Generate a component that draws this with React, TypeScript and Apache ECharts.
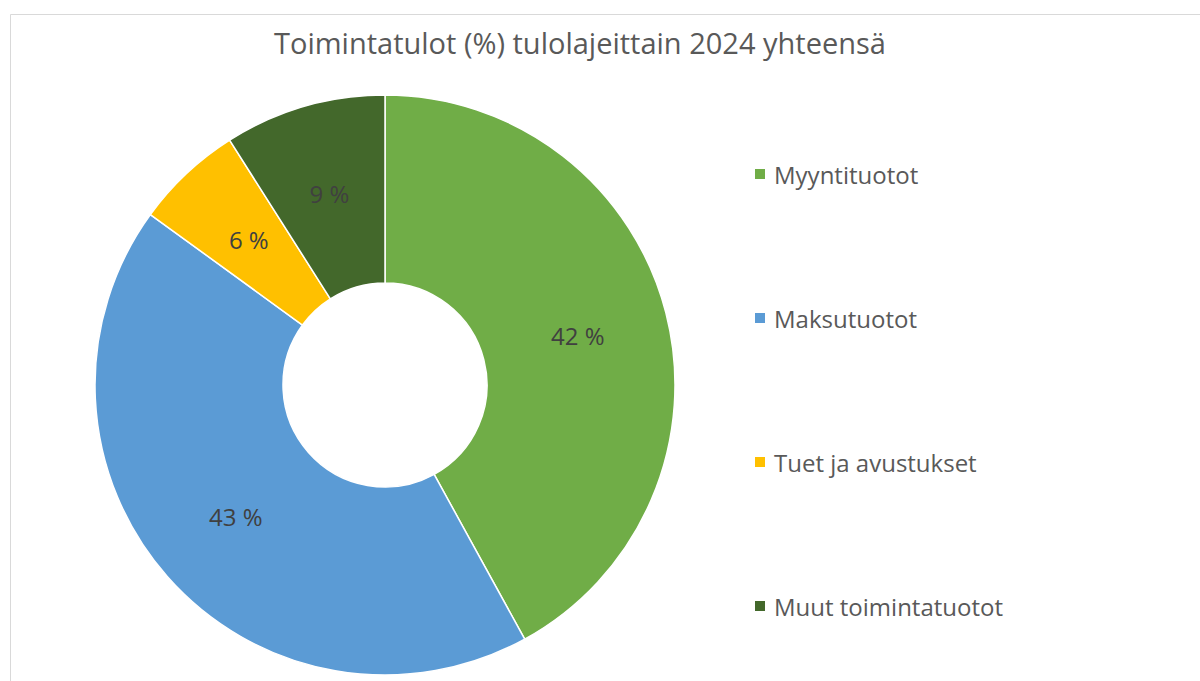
import React, { useEffect, useRef } from "react";
import * as echarts from "echarts";

const categories = ["Myyntituotot", "Maksutuotot", "Tuet ja avustukset", "Muut toimintatuotot"];
const values = [42, 43, 6, 9];
const colors = ["#70AD47", "#5B9BD5", "#FFC000", "#43682B"];
const titleText = "Toimintatulot (%) tulolajeittain 2024 yhteensä";

export default function App() {
  const ref = useRef<HTMLDivElement>(null);
  useEffect(() => {
    if (!ref.current) return;
    const chart = echarts.init(ref.current, null, { renderer: "svg" });
    const font = "Open Sans";
    chart.setOption({
      animation: false,
      backgroundColor: "#ffffff",
      title: {
        text: titleText,
        left: 580,
        textAlign: "center",
        top: 28,
        padding: 0,
        textStyle: { fontFamily: font, fontSize: 29, fontWeight: "normal", color: "#595959" },
      },
      graphic: [
        {
          type: "rect",
          shape: { x: 10.5, y: 14.5, width: 1300, height: 800 },
          style: { fill: "none", stroke: "#d9d9d9", lineWidth: 1 },
          silent: true,
        },
      ],
      legend: {
        orient: "vertical",
        left: 753,
        top: 162,
        padding: 0,
        itemWidth: 12,
        itemHeight: 12,
        itemGap: 120,
        icon: "rect",
        textStyle: { fontFamily: font, fontSize: 24, lineHeight: 24, color: "#595959", padding: [0, 0, 0, 3] },
        data: categories,
      },
      series: [
        {
          type: "pie",
          center: [385, 385],
          radius: [102, 290],
          startAngle: 90,
          clockwise: true,
          avoidLabelOverlap: false,
          itemStyle: { borderColor: "#ffffff", borderWidth: 1.5 },
          label: {
            show: true,
            position: "inside",
            formatter: (p: any) => Math.round(p.percent) + " %",
            fontFamily: font,
            fontSize: 24,
            color: "#404040",
          },
          labelLine: { show: false },
          emphasis: { disabled: true },
          data: categories.map((c, i) => ({ name: c, value: values[i], itemStyle: { color: colors[i] } })),
        },
      ],
    });
    return () => chart.dispose();
  }, []);
  return (
    <div
      ref={ref}
      style={{ position: "fixed", left: 0, top: 0, width: 1200, height: 681 }}
    />
  );
}
